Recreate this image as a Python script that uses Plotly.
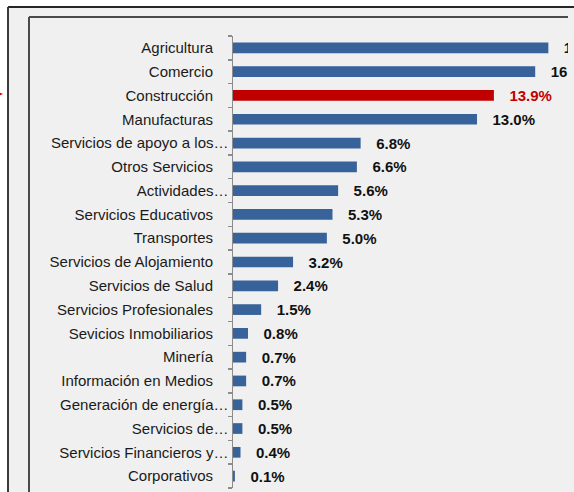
import plotly.graph_objects as go

categories = [
    "Agricultura", "Comercio", "Construcción", "Manufacturas",
    "Servicios de apoyo a los…", "Otros Servicios", "Actividades…",
    "Servicios Educativos", "Transportes", "Servicios de Alojamiento",
    "Servicios de Salud", "Servicios Profesionales", "Sevicios Inmobiliarios",
    "Minería", "Información en Medios", "Generación de energía…",
    "Servicios de…", "Servicios Financieros y…", "Corporativos",
]
values = [16.8, 16.1, 13.9, 13.0, 6.8, 6.6, 5.6, 5.3, 5.0, 3.2, 2.4, 1.5,
          0.8, 0.7, 0.7, 0.5, 0.5, 0.4, 0.1]
highlight = "Construcción"

W, H = 574, 492
L, R, T, B = 233, 6, 36, 4
pw, ph = W - L - R, H - T - B

def px(x):
    return (x - L) / pw

def py(y):
    return (H - B - y) / ph

# labels that are not truncated get a right padding (Excel-like alignment)
tick_text = [c if c.endswith("…") else c + "\u00a0\u00a0\u00a0\u2009" for c in categories]
bar_colors = ["#c00000" if c == highlight else "#37629a" for c in categories]
txt_colors = ["#c00000" if c == highlight else "#111111" for c in categories]
texts = ["\u00a0\u00a0\u00a0" + f"{v:.1f}%" for v in values]

fig = go.Figure(go.Bar(
    x=values, y=categories, orientation="h",
    marker=dict(color=bar_colors, line=dict(width=0)),
    text=texts, textposition="outside", constraintext="none",
    textfont=dict(family="Liberation Sans, Arial, sans-serif", size=15,
                  color=txt_colors, weight="bold"),
    cliponaxis=True, width=0.45,
))

shapes = [
    # outer light background with frame
    dict(type="rect", xref="paper", yref="paper", layer="below",
         x0=px(8), y0=py(H + 20), x1=px(W + 20), y1=py(7),
         fillcolor="#f0f0f0", line=dict(width=0)),
    dict(type="line", xref="paper", yref="paper", x0=px(8), y0=py(7), x1=px(W + 20), y1=py(7),
         line=dict(color="#262626", width=2)),
    dict(type="line", xref="paper", yref="paper", x0=px(8), y0=py(7), x1=px(8), y1=py(H + 20),
         line=dict(color="#3a3a3a", width=2)),
    # inner frame
    dict(type="line", xref="paper", yref="paper", x0=px(29), y0=py(17), x1=px(568), y1=py(17),
         line=dict(color="#4a4a4a", width=2)),
    dict(type="line", xref="paper", yref="paper", x0=px(29), y0=py(17), x1=px(29), y1=py(H + 20),
         line=dict(color="#4a4a4a", width=2)),
    # small red arrow tip at the left edge
    dict(type="path", xref="paper", yref="paper",
         path=f"M {px(-6)} {py(90)} L {px(3)} {py(94)} L {px(-6)} {py(98)} Z",
         fillcolor="#d00000", line=dict(width=0)),
]

fig.update_layout(
    width=W, height=H,
    margin=dict(l=L, r=R, t=T, b=B, pad=0),
    paper_bgcolor="white", plot_bgcolor="rgba(0,0,0,0)",
    showlegend=False, shapes=shapes, bargap=0.55,
    font=dict(family="Liberation Sans, Arial, sans-serif", size=15, color="#1a1a1a"),
    xaxis=dict(range=[0, pw / 18.77], visible=False, fixedrange=True),
    yaxis=dict(type="category", autorange="reversed", automargin=False,
               tickmode="array", tickvals=categories, ticktext=tick_text,
               showline=True, linecolor="#8c8c8c", linewidth=1.5,
               ticks="outside", ticklen=4, tickcolor="#8c8c8c", tickwidth=1.5,
               tickson="boundaries", showgrid=False, fixedrange=True,
               tickfont=dict(size=15, color="#1a1a1a")),
)

fig.write_html("out.html", config={"displayModeBar": False, "staticPlot": True},
               post_script="document.body.style.margin='0';document.body.style.overflow='hidden';")
